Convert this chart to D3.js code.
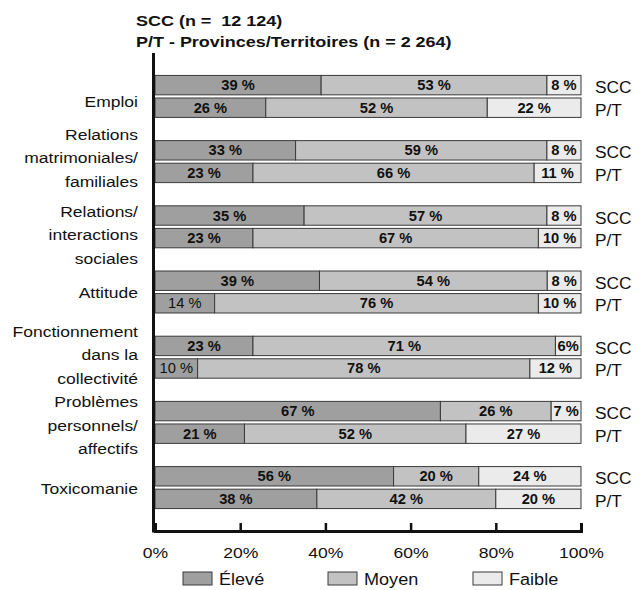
<!DOCTYPE html>
<html lang="fr">
<head>
<meta charset="utf-8">
<script src="https://cdn.jsdelivr.net/npm/d3@7"></script>
<style>
  html, body { margin: 0; padding: 0; background: #fff; }
  svg { display: block; font-family: "Liberation Sans", Arial, Helvetica, sans-serif; }
  text { white-space: pre; }
</style>
</head>
<body>
<svg id="chart" width="644" height="590"></svg>
<script>
// Domaines évalués (libellés sur plusieurs lignes)
const categories = [
  ["Emploi"],
  ["Relations", "matrimoniales/", "familiales"],
  ["Relations/", "interactions", "sociales"],
  ["Attitude"],
  ["Fonctionnement", "dans la", "collectivité"],
  ["Problèmes", "personnels/", "affectifs"],
  ["Toxicomanie"]
];
const groups = ["SCC", "P/T"];
const levels = ["Élevé", "Moyen", "Faible"];

// Pourcentages par niveau de besoin
const sccEleve  = [39, 33, 35, 39, 23, 67, 56];
const sccMoyen  = [53, 59, 57, 54, 71, 26, 20];
const sccFaible = [ 8,  8,  8,  8,  6,  7, 24];
const ptEleve   = [26, 23, 23, 14, 10, 21, 38];
const ptMoyen   = [52, 66, 67, 76, 78, 52, 42];
const ptFaible  = [22, 11, 10, 10, 12, 27, 20];

// Étiquettes telles qu'affichées
const sccLabels = [
  ["39 %", "53 %", "8 %"], ["33 %", "59 %", "8 %"], ["35 %", "57 %", "8 %"],
  ["39 %", "54 %", "8 %"], ["23 %", "71 %", "6%"], ["67 %", "26 %", "7 %"],
  ["56 %", "20 %", "24 %"]
];
const ptLabels = [
  ["26 %", "52 %", "22 %"], ["23 %", "66 %", "11 %"], ["23 %", "67 %", "10 %"],
  ["14 %", "76 %", "10 %"], ["10 %", "78 %", "12 %"], ["21 %", "52 %", "27 %"],
  ["38 %", "42 %", "20 %"]
];

const titleLines = ["SCC (n =  12 124)", "P/T - Provinces/Territoires (n = 2 264)"];
const tickValues = [0, 20, 40, 60, 80, 100];

// ---------------------------------------------------------------
const svg = d3.select("#chart");
const ink = "#111";
const colors = d3.scaleOrdinal().domain(levels).range(["#9f9f9f", "#c2c2c2", "#ebebeb"]);

const x = d3.scaleLinear().domain([0, 100]).range([155, 581]);
const y = d3.scaleBand().domain(d3.range(categories.length))
  .range([53, 531]).paddingInner(0.356).paddingOuter(0.344);
const ySub = d3.scaleBand().domain(groups).range([0, y.bandwidth()]).paddingInner(0.14);

// Texte élargi horizontalement autour de son point d'ancrage
const wide = (sel, sx) => sel.attr("transform", function () {
  const tx = +this.getAttribute("x") || 0;
  return `translate(${tx * (1 - sx)},0) scale(${sx},1)`;
});

// Lignes de données : un enregistrement par domaine et par groupe
const rows = [];
categories.forEach((c, i) => {
  rows.push({ cat: i, group: "SCC", "Élevé": sccEleve[i], "Moyen": sccMoyen[i], "Faible": sccFaible[i], labels: sccLabels[i] });
  rows.push({ cat: i, group: "P/T", "Élevé": ptEleve[i], "Moyen": ptMoyen[i], "Faible": ptFaible[i], labels: ptLabels[i] });
});

// Barres empilées à 100 %
const series = d3.stack().keys(levels).offset(d3.stackOffsetExpand)(rows);

// Étiquettes en graisse normale
const lightLabels = new Set(["3|P/T|0", "4|P/T|0"]);

const layer = svg.append("g").selectAll("g").data(series).join("g")
  .attr("fill", d => colors(d.key));

layer.selectAll("rect").data(d => d).join("rect")
  .attr("x", d => x(d[0] * 100))
  .attr("width", d => x(d[1] * 100) - x(d[0] * 100))
  .attr("y", d => y(d.data.cat) + ySub(d.data.group))
  .attr("height", ySub.bandwidth())
  .attr("stroke", "#3a3a3a")
  .attr("stroke-width", 1);

series.forEach((s, li) => {
  svg.append("g").selectAll("text").data(s).join("text")
    .attr("x", d => x((d[0] + d[1]) / 2 * 100))
    .attr("y", d => y(d.data.cat) + ySub(d.data.group) + ySub.bandwidth() / 2 + 5)
    .attr("text-anchor", "middle")
    .attr("font-size", 14)
    .attr("font-weight", d => lightLabels.has(`${d.data.cat}|${d.data.group}|${li}`) ? "normal" : "bold")
    .attr("fill", ink)
    .text(d => d.data.labels[li])
    .call(wide, 1.05);
});

// Groupes à droite des barres
svg.append("g").selectAll("text").data(rows).join("text")
  .attr("x", 595)
  .attr("y", d => y(d.cat) + ySub(d.group) + ySub.bandwidth() / 2 + 8)
  .attr("font-size", 16.5)
  .attr("fill", ink)
  .text(d => d.group)
  .call(wide, 1.05);

// Libellés des domaines (léger décalage vertical propre à chaque bloc)
const lineH = 23.5;
const labelNudge = [5, -4, 8, 1, -2.5, 3, 1];
svg.append("g").selectAll("text").data(categories).join("text")
  .attr("text-anchor", "end")
  .attr("font-size", 15.5)
  .attr("fill", ink)
  .attr("transform", "translate(" + (138 * (1 - 1.13)) + ",0) scale(1.13,1)")
  .each(function (lines, i) {
    const cy = y(i) + y.bandwidth() / 2 + labelNudge[i];
    const first = cy - (lines.length - 1) * lineH / 2 + 5.5;
    d3.select(this).selectAll("tspan").data(lines).join("tspan")
      .attr("x", 138)
      .attr("y", (_, k) => first + k * lineH)
      .text(t => t);
  });

// Axe horizontal
const xAxis = svg.append("g")
  .attr("transform", "translate(0,531)")
  .call(d3.axisBottom(x).tickValues(tickValues).tickFormat(d => d + "%")
    .tickSizeInner(-8).tickSizeOuter(-8).tickPadding(16));
xAxis.select(".domain").attr("stroke", ink).attr("stroke-width", 3);
xAxis.selectAll(".tick line").attr("stroke", ink).attr("stroke-width", 2.5);
xAxis.selectAll(".tick text").attr("fill", ink).attr("font-size", 15)
  .attr("font-family", "Liberation Sans, Arial, sans-serif")
  .attr("transform", "scale(1.17,1)");

// Axe vertical
svg.append("line")
  .attr("x1", 153.5).attr("x2", 153.5)
  .attr("y1", 53).attr("y2", 532.5)
  .attr("stroke", ink).attr("stroke-width", 3);

// Titre
svg.append("g").selectAll("text").data(titleLines).join("text")
  .attr("x", 136)
  .attr("y", (_, i) => 26 + i * 20.7)
  .attr("font-size", 15.5)
  .attr("font-weight", "bold")
  .attr("fill", ink)
  .text(d => d)
  .call(wide, 1.16);

// Légende
const legendX = d3.scalePoint().domain(levels).range([183, 473]);
const legend = svg.append("g").selectAll("g").data(levels).join("g")
  .attr("transform", d => `translate(${legendX(d)},572)`);
legend.append("rect")
  .attr("width", 29).attr("height", 13)
  .attr("fill", d => colors(d))
  .attr("stroke", "#3a3a3a").attr("stroke-width", 1);
legend.append("text")
  .attr("x", 36).attr("y", 13)
  .attr("font-size", 16)
  .attr("fill", ink)
  .text(d => d)
  .call(wide, 1.13);
</script>
</body>
</html>
